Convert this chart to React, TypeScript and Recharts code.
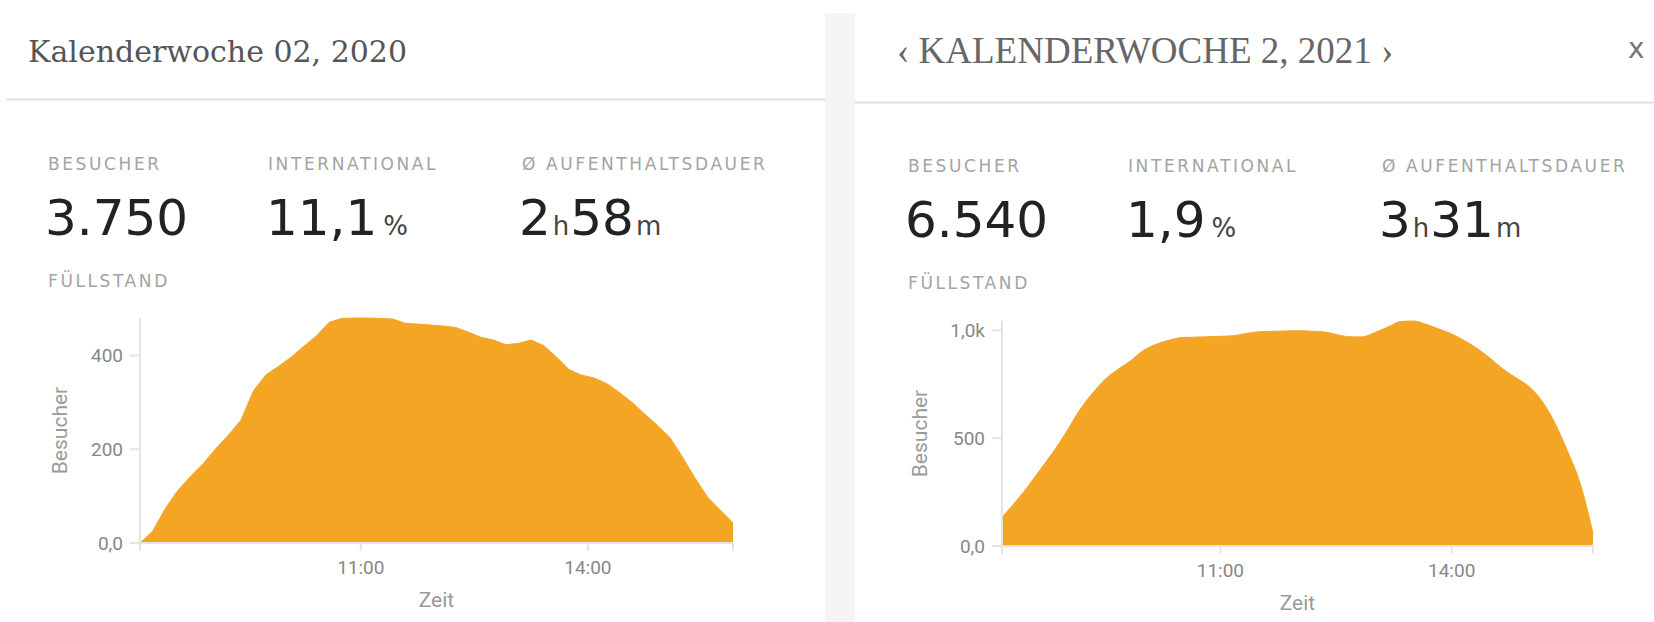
import React from 'react';
import { AreaChart, Area, XAxis, YAxis } from 'recharts';

// KW 02 / 2020 – Füllstand (10-Minuten-Werte)
const leftTimes = [
  '08:05', '08:15', '08:25', '08:35', '08:45', '08:55',
  '09:05', '09:15', '09:25', '09:35', '09:45', '09:55',
  '10:05', '10:15', '10:25', '10:35', '10:45', '10:55',
  '11:05', '11:15', '11:25', '11:35', '11:45', '11:55',
  '12:05', '12:15', '12:25', '12:35', '12:45', '12:55',
  '13:05', '13:15', '13:25', '13:35', '13:45', '13:55',
  '14:05', '14:15', '14:25', '14:35', '14:45', '14:55',
  '15:05', '15:15', '15:25', '15:35', '15:45', '15:55',
];
const leftVisitors = [
  0, 25, 73, 112, 142, 169, 201, 230, 262, 325, 359, 377,
  397, 420, 442, 471, 479, 480, 480, 479, 478, 469, 467, 465,
  463, 460, 450, 439, 433, 423, 426, 433, 421, 397, 370, 358,
  352, 340, 321, 300, 275, 251, 225, 183, 138, 97, 70, 43,
];

// KW 2 / 2021
const rightTimes = [
  '08:10', '08:20', '08:30', '08:40', '08:50',
  '09:00', '09:10', '09:20', '09:30', '09:40', '09:50',
  '10:00', '10:10', '10:20', '10:30', '10:40', '10:50',
  '11:00', '11:10', '11:20', '11:30', '11:40', '11:50',
  '12:00', '12:10', '12:20', '12:30', '12:40', '12:50',
  '13:00', '13:10', '13:20', '13:30', '13:40', '13:50',
  '14:00', '14:10', '14:20', '14:30', '14:40', '14:50',
  '15:00', '15:10', '15:20', '15:30', '15:40', '15:50',
];
const rightVisitors = [
  133, 201, 275, 356, 437, 527, 626, 705, 771, 818, 858,
  906, 935, 954, 966, 968, 970, 972, 975, 985, 993, 995,
  997, 998, 996, 993, 981, 970, 969, 989, 1014, 1040, 1043,
  1028, 1006, 983, 952, 915, 870, 820, 780, 740, 674, 574,
  442, 291, 58,
];

const leftYTicks = [0, 200, 400];
const rightYTicks = [0, 500, 1000];
const xTickLabels = ['11:00', '14:00'];

const ORANGE = '#f4a523';
const GRID = '#e4e4e4';

const toMin = (s: string) => {
  const [h, m] = s.split(':').map(Number);
  return h * 60 + m;
};
const fmtTime = (v: number) => `${Math.floor(v / 60)}:${String(v % 60).padStart(2, '0')}`;
const fmtY = (v: number) =>
  v === 0 ? '0,0' : v >= 1000 ? `${(v / 1000).toFixed(1).replace('.', ',')}k` : String(v);

interface FillChartProps {
  times: string[];
  values: number[];
  yTicks: number[];
  left: number;
  top: number;
  yAxisWidth: number;
  marginTop: number;
  curve: 'linear' | 'monotone';
}

function FillChart({ times, values, yTicks, left, top, yAxisWidth, marginTop, curve }: FillChartProps) {
  const data = times.map((t, i) => ({ t: toMin(t), v: values[i] }));
  const first = data[0].t;
  const last = data[data.length - 1].t;
  const mid = xTickLabels.map(toMin);
  const tickFont = { fill: '#878787', fontSize: 19, fontFamily: 'Roboto' };

  return (
    <div style={{ position: 'absolute', left, top }}>
      <AreaChart width={760} height={322} data={data} margin={{ top: marginTop, right: 27, left: 0, bottom: 0 }}>
        <XAxis
          dataKey="t"
          type="number"
          domain={['dataMin', 'dataMax']}
          ticks={[first, ...mid, last]}
          interval={0}
          tickFormatter={(v: number) => (mid.includes(v) ? fmtTime(v) : '')}
          tick={tickFont}
          axisLine={{ stroke: GRID, strokeWidth: 2 }}
          tickLine={{ stroke: GRID, strokeWidth: 2 }}
          tickSize={8}
          tickMargin={10}
          height={322 - marginTop - 225}
          label={(p: any) => {
            const vb = p?.viewBox;
            if (!vb) return null;
            return (
              <text x={vb.x + vb.width / 2} y={vb.y + 64} textAnchor="middle" fill="#9a9a9a" fontSize={21} fontFamily="Roboto">
                Zeit
              </text>
            );
          }}
        />
        <YAxis
          domain={[0, 'dataMax']}
          ticks={yTicks}
          interval={0}
          tickFormatter={fmtY}
          tick={tickFont}
          axisLine={{ stroke: GRID, strokeWidth: 2 }}
          tickLine={{ stroke: GRID, strokeWidth: 2 }}
          tickSize={10}
          tickMargin={7}
          width={yAxisWidth}
          label={(p: any) => {
            const vb = p?.viewBox;
            if (!vb) return null;
            const cx = vb.x + 60;
            const cy = vb.y + vb.height / 2;
            return (
              <text
                x={cx}
                y={cy}
                transform={`rotate(-90 ${cx} ${cy})`}
                textAnchor="middle"
                dominantBaseline="central"
                fill="#9a9a9a"
                fontSize={21}
                fontFamily="Roboto"
              >
                Besucher
              </text>
            );
          }}
        />
        <Area
          type={curve}
          dataKey="v"
          stroke={ORANGE}
          strokeWidth={1}
          fill={ORANGE}
          fillOpacity={1}
          isAnimationActive={false}
          dot={false}
          activeDot={false}
        />
      </AreaChart>
    </div>
  );
}

const labelStyle: React.CSSProperties = { letterSpacing: '2.6px' };

function Stats({ dx, dy, visitors, intl, hours, minutes }: { dx: number; dy: number; visitors: string; intl: string; hours: string; minutes: string }) {
  const lab = { fill: '#a3a3a3', fontSize: 17, fontFamily: 'DejaVu Sans', style: labelStyle };
  const num = { fill: '#222', fontSize: 50, fontFamily: 'DejaVu Sans' };
  const unit = { fontSize: 26, fill: '#444' };
  return (
    <g>
      <text x={48 + dx} y={170 + dy} {...lab}>BESUCHER</text>
      <text x={268 + dx} y={170 + dy} {...lab}>INTERNATIONAL</text>
      <text x={522 + dx} y={170 + dy} {...lab}>Ø AUFENTHALTSDAUER</text>
      <text x={45 + dx} y={235 + dy} {...num}>{visitors}</text>
      <text x={266 + dx} y={235 + dy} {...num}>
        {intl}
        <tspan dx={6} {...unit}>%</tspan>
      </text>
      <text x={519 + dx} y={235 + dy} {...num}>
        {hours}
        <tspan dx={2} {...unit}>h</tspan>
        <tspan dx={1}>{minutes}</tspan>
        <tspan dx={2} {...unit}>m</tspan>
      </text>
      <text x={48 + dx} y={287 + dy} {...lab}>FÜLLSTAND</text>
    </g>
  );
}

export default function App() {
  return (
    <div style={{ position: 'absolute', left: 0, top: 0, width: 1654, height: 622, background: '#fff', overflow: 'hidden' }}>
      <svg width={1654} height={622} style={{ position: 'absolute', left: 0, top: 0 }}>
        <rect x={825} y={13} width={30} height={609} fill="#f4f4f4" />
        <line x1={6} x2={825} y1={99.5} y2={99.5} stroke="#e2e2e2" strokeWidth={2} />
        <line x1={855} x2={1654} y1={102.5} y2={102.5} stroke="#e2e2e2" strokeWidth={2} />

        <text x={28} y={62} fill="#555" fontSize={30} fontFamily="DejaVu Serif">
          Kalenderwoche 02, 2020
        </text>
        <text x={897} y={63} fill="#666" fontSize={37} fontFamily="Liberation Serif">
          ‹ KALENDERWOCHE 2, 2021 ›
        </text>
        <text x={1628} y={58} fill="#777" fontSize={28} fontFamily="DejaVu Sans">
          x
        </text>

        <Stats dx={0} dy={0} visitors="3.750" intl="11,1" hours="2" minutes="58" />
        <Stats dx={860} dy={2} visitors="6.540" intl="1,9" hours="3" minutes="31" />
      </svg>

      <FillChart
        times={leftTimes}
        values={leftVisitors}
        yTicks={leftYTicks}
        left={0}
        top={300}
        yAxisWidth={140}
        marginTop={18}
        curve="linear"
      />
      <FillChart
        times={rightTimes}
        values={rightVisitors}
        yTicks={rightYTicks}
        left={860}
        top={300}
        yAxisWidth={142}
        marginTop={21}
        curve="monotone"
      />
    </div>
  );
}
